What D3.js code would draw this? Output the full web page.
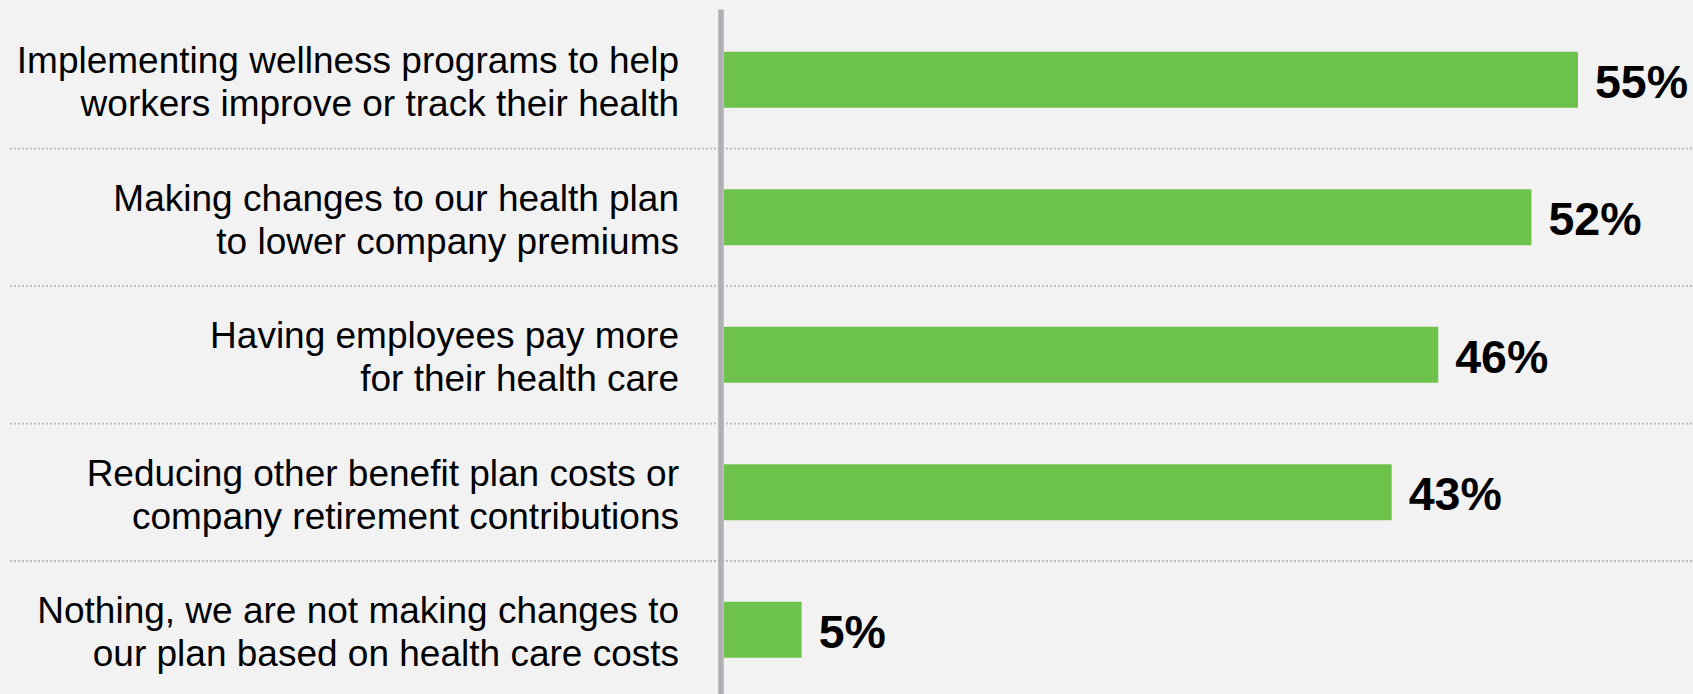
<!DOCTYPE html>
<html>
<head>
<meta charset="utf-8">
<script src="https://cdn.jsdelivr.net/npm/d3@7"></script>
<style>
  html, body { margin: 0; padding: 0; background: #f2f2f2; }
  svg { display: block; }
</style>
</head>
<body>
<svg id="chart" width="1693" height="694"></svg>
<script>
// Survey responses: how employers are reacting to health care costs
const categories = [
  ["Implementing wellness programs to help", "workers improve or track their health"],
  ["Making changes to our health plan", "to lower company premiums"],
  ["Having employees pay more", "for their health care"],
  ["Reducing other benefit plan costs or", "company retirement contributions"],
  ["Nothing, we are not making changes to", "our plan based on health care costs"]
];
const values = [55, 52, 46, 43, 5];
const valueLabels = ["55%", "52%", "46%", "43%", "5%"];

const W = 1693, H = 694;
const svg = d3.select("#chart");

svg.append("rect").attr("width", W).attr("height", H).attr("fill", "#f2f2f2");

const keys = categories.map((c, i) => i);

const y = d3.scaleBand()
  .domain(keys)
  .range([11, 698.5])
  .paddingInner(0.593)
  .paddingOuter(0.2965);

const x = d3.scaleLinear()
  .domain([0, 55])
  .range([724, 1578]);

const step = y.step();

// dotted separators between rows
svg.append("g").selectAll("line")
  .data(keys.slice(0, -1))
  .join("line")
  .attr("x1", 10)
  .attr("x2", W)
  .attr("y1", d => y(d) + y.bandwidth() / 2 + step / 2)
  .attr("y2", d => y(d) + y.bandwidth() / 2 + step / 2)
  .attr("stroke", "#bdbdbd")
  .attr("stroke-width", 2)
  .attr("stroke-dasharray", "2,2");

// bars
svg.append("g").selectAll("rect")
  .data(keys)
  .join("rect")
  .attr("x", x(0))
  .attr("y", d => y(d))
  .attr("width", d => x(values[d]) - x(0))
  .attr("height", y.bandwidth())
  .attr("fill", "#6cc24b");

// vertical axis line
svg.append("line")
  .attr("x1", x(0) - 3)
  .attr("x2", x(0) - 3)
  .attr("y1", 9.5)
  .attr("y2", H)
  .attr("stroke", "#aeb0b3")
  .attr("stroke-width", 5.5);

// category labels (two lines, right-aligned)
const labels = svg.append("g")
  .attr("font-family", "'Liberation Sans', Arial, sans-serif")
  .attr("font-size", 37)
  .attr("fill", "#000")
  .attr("text-anchor", "end");

keys.forEach(d => {
  const cy = y(d) + y.bandwidth() / 2;
  const t = labels.append("text").attr("x", 679);
  t.append("tspan").attr("x", 679).attr("y", cy - 6.5).text(categories[d][0]);
  t.append("tspan").attr("x", 679).attr("y", cy + 36.5).text(categories[d][1]);
});

// value labels
svg.append("g")
  .attr("font-family", "'Liberation Sans', Arial, sans-serif")
  .attr("font-size", 46.5)
  .attr("font-weight", "bold")
  .attr("fill", "#000")
  .selectAll("text")
  .data(keys)
  .join("text")
  .attr("x", d => x(values[d]) + 17)
  .attr("y", d => y(d) + y.bandwidth() / 2 + 18)
  .text(d => valueLabels[d]);
</script>
</body>
</html>
